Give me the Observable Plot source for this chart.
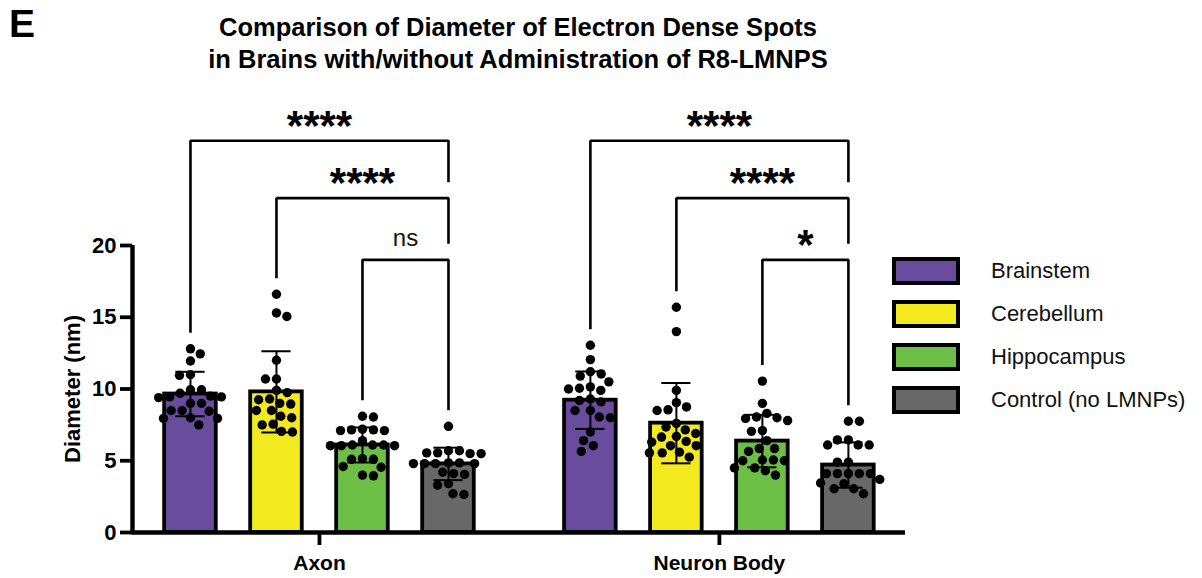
<!DOCTYPE html>
<html><head><meta charset="utf-8">
<script src="https://cdn.jsdelivr.net/npm/d3@7"></script>
<script src="https://cdn.jsdelivr.net/npm/@observablehq/plot@0.6"></script>
<style>
body{margin:0;background:#fff;font-family:"Liberation Sans",Arial,sans-serif;color:#000;}
#wrap{position:relative;width:1202px;height:578px;overflow:hidden;}
#chart{position:absolute;left:0;top:0;}
#panel{position:absolute;left:9px;top:2px;font-weight:bold;font-size:39px;line-height:44px;}
#title{position:absolute;left:0;width:1036px;top:11px;text-align:center;font-weight:bold;font-size:25.5px;line-height:32px;}
#legend{position:absolute;left:892px;top:257px;}
.item{display:flex;align-items:center;height:28px;margin-bottom:15px;}
.sw{width:60px;height:20px;border:4px solid #000;}
.lab{margin-left:31px;font-size:22px;color:#111;}
</style></head>
<body>
<div id="wrap">
  <div id="chart"></div>
  <div id="panel">E</div>
  <div id="title"></div>
  <div id="legend"></div>
</div>
<script>
// ---------- data ----------
const titleLines = ["Comparison of Diameter of Electron Dense Spots", "in Brains with/without Administration of R8-LMNPS"];
const groups = ["Axon", "Neuron Body"];
const regions = ["Brainstem", "Cerebellum", "Hippocampus", "Control (no LMNPs)"];
const regionColors = ["#6A4C9E", "#F2EA1E", "#6CBE45", "#676867"];
const yTicks = [0, 5, 10, 15, 20];
const yLabel = "Diameter (nm)";

const axonMeans = [9.65, 9.8, 6.1, 4.78];
const axonSD = [1.55, 2.83, 1.22, 1.13];
const neuronMeans = [9.22, 7.62, 6.37, 4.7];
const neuronSD = [2.0, 2.8, 1.83, 1.58];

const axonBrainstem = [12.8, 12.45, 11.95, 11.0, 10.95, 9.95, 9.95, 9.7, 9.5, 9.45, 9.45, 9.4, 9.0, 9.0, 8.5, 8.5, 8.45, 8.0, 7.95, 7.95, 7.5];
const axonCerebellum = [16.6, 15.3, 15.05, 12.0, 10.7, 10.7, 9.9, 9.75, 9.3, 9.25, 9.0, 8.95, 8.5, 8.5, 8.1, 8.0, 7.55, 7.5, 7.05, 7.0];
const axonHippocampus = [8.1, 8.05, 7.2, 7.15, 7.1, 7.1, 7.15, 6.4, 6.1, 6.05, 6.05, 6.1, 6.05, 6.1, 5.15, 5.1, 5.1, 4.6, 4.55, 4.0, 3.95];
const axonControl = [7.4, 5.7, 5.55, 5.5, 5.5, 5.55, 5.7, 4.85, 4.8, 4.8, 4.8, 4.8, 4.85, 4.2, 4.1, 4.05, 3.4, 3.3, 2.7, 2.65];
const neuronBrainstem = [13.05, 12.05, 11.2, 11.05, 10.9, 10.5, 10.15, 10.05, 10.0, 9.9, 9.3, 9.2, 9.1, 8.5, 8.5, 8.05, 8.0, 7.0, 6.4, 6.05, 5.65];
const neuronCerebellum = [15.7, 14.0, 9.9, 9.05, 8.75, 8.55, 8.5, 7.6, 7.35, 7.15, 6.9, 6.7, 6.65, 6.35, 6.3, 6.05, 6.05, 5.6, 5.55, 5.55, 5.25];
const neuronHippocampus = [10.55, 9.0, 8.3, 8.05, 8.0, 7.95, 7.8, 7.1, 7.05, 6.4, 5.85, 5.85, 5.65, 5.05, 5.05, 5.0, 5.0, 4.5, 4.5, 4.3, 4.0];
const neuronControl = [7.75, 7.75, 6.45, 6.45, 6.1, 6.1, 6.1, 4.9, 4.9, 4.1, 4.1, 4.1, 4.1, 4.1, 3.7, 3.45, 3.4, 3.05, 3.05, 2.7];

// comparisons: group index, region a, region b, bracket level, label
const comparisons = [
  [0, 0, 3, 2, "****"], [0, 1, 3, 1, "****"], [0, 2, 3, 0, "ns"],
  [1, 0, 3, 2, "****"], [1, 1, 3, 1, "****"], [1, 2, 3, 0, "*"]
];

// ---------- layout ----------
const W = 1202, H = 578;
const mL = 132, mR = 297, mT = 245, mB = 46;
const groupGap = 4.65;           // x-units between group starts
const xDomain = [-0.674, 8.314];
const yDomain = [0, 20];
const barHalf = 0.30, capHalf = 0.17;
const levelY = [19.0, 23.3, 27.3];
const pxPerX = (W - mL - mR) / (xDomain[1] - xDomain[0]);
const pxPerY = (H - mT - mB) / (yDomain[1] - yDomain[0]);
const legGap = 16 / pxPerY;
const dotR = 4.7;

const means = [axonMeans, neuronMeans];
const sds = [axonSD, neuronSD];
const points = [[axonBrainstem, axonCerebellum, axonHippocampus, axonControl],
                [neuronBrainstem, neuronCerebellum, neuronHippocampus, neuronControl]];
const xPos = (g, r) => g * groupGap + r;
const groupCenters = groups.map((_, g) => (xPos(g, 0) + xPos(g, regions.length - 1)) / 2);

const bars = [];
groups.forEach((gname, g) => regions.forEach((reg, r) => {
  bars.push({group: gname, region: reg, x: xPos(g, r), mean: means[g][r], sd: sds[g][r]});
}));
const caps = bars.flatMap(b => [{x: b.x, y: b.mean - b.sd}, {x: b.x, y: b.mean + b.sd}]);

// beeswarm placement computed in pixel space
function swarm(vals, cx) {
  const minD = 11;
  const placed = [];
  let toggle = 1;
  const sorted = vals.slice().sort((a, b) => b - a);
  for (const v of sorted) {
    const py = v * pxPerY;
    const near = placed.filter(p => Math.abs(p.py - py) < minD);
    const cands = [0];
    for (const p of near) {
      const w = Math.sqrt(minD * minD - (p.py - py) ** 2);
      cands.push(p.px - w, p.px + w);
    }
    const ok = c => near.every(p => (p.px - c) ** 2 + (p.py - py) ** 2 >= minD * minD - 1e-6);
    const valid = cands.filter(ok);
    const best = Math.min(...valid.map(Math.abs));
    const choice = valid.filter(c => Math.abs(Math.abs(c) - best) < 1e-6);
    const px = choice.length > 1 ? (toggle > 0 ? Math.max(...choice) : Math.min(...choice)) : choice[0];
    if (choice.length > 1) toggle = -toggle;
    placed.push({v, py, px});
  }
  return placed.map(p => ({value: p.v, x: cx + p.px / pxPerX}));
}
const dots = [];
points.forEach((gp, g) => gp.forEach((vals, r) => dots.push(...swarm(vals, xPos(g, r)))));

// brackets
const bracketLines = [], bracketLabels = [];
comparisons.forEach(([g, a, b, level, label], k) => {
  const floorAt = r => {
    let m = Math.max(...points[g][r]);
    comparisons.forEach(([g2, a2, b2, l2]) => {
      if (g2 === g && l2 < level && (a2 === r || b2 === r)) m = Math.max(m, levelY[l2]);
    });
    return m + legGap;
  };
  const y = levelY[level];
  bracketLines.push(
    {id: k, x: xPos(g, a), y: floorAt(a)},
    {id: k, x: xPos(g, a), y},
    {id: k, x: xPos(g, b), y},
    {id: k, x: xPos(g, b), y: floorAt(b)}
  );
  bracketLabels.push({x: (xPos(g, a) + xPos(g, b)) / 2, y, label});
});

const font = "Liberation Sans, Arial, sans-serif";
const chart = Plot.plot({
  width: W, height: H,
  marginLeft: mL, marginRight: mR, marginTop: mT, marginBottom: mB,
  style: {fontFamily: font, color: "#000", background: "transparent"},
  x: {type: "linear", domain: xDomain},
  y: {domain: yDomain},
  color: {domain: regions, range: regionColors},
  marks: [
    Plot.rectY(bars, {x1: d => d.x - barHalf, x2: d => d.x + barHalf, y: "mean", fill: "region", stroke: "#000", strokeWidth: 3.8}),
    Plot.dot(dots, {x: "x", y: "value", r: dotR, fill: "#000", stroke: "none"}),
    Plot.ruleX(bars, {x: "x", y1: d => d.mean - d.sd, y2: d => d.mean + d.sd, stroke: "#000", strokeWidth: 2}),
    Plot.ruleY(caps, {y: "y", x1: d => d.x - capHalf, x2: d => d.x + capHalf, stroke: "#000", strokeWidth: 2}),
    Plot.line(bracketLines, {x: "x", y: "y", z: "id", stroke: "#000", strokeWidth: 2.6, strokeLinejoin: "miter", strokeLinecap: "butt"}),
    Plot.text(bracketLabels.filter(d => d.label !== "ns"), {x: "x", y: "y", text: "label", lineAnchor: "bottom", dy: -1, fontSize: 42, fontWeight: "bold", fill: "#000"}),
    Plot.text(bracketLabels.filter(d => d.label === "ns"), {x: "x", y: "y", text: "label", lineAnchor: "bottom", dy: -14, fontSize: 24, fill: "#111"}),
    Plot.ruleY([0], {stroke: "#000", strokeWidth: 4.6}),
    Plot.ruleX([xDomain[0]], {y1: -0.16, y2: yDomain[1], stroke: "#000", strokeWidth: 4.4}),
    Plot.axisY({ticks: yTicks, tickSize: 12, tickPadding: 4, fontSize: 22, fontWeight: "bold", strokeWidth: 3.8, label: null}),
    Plot.axisX({ticks: groupCenters, tickFormat: d => groups[groupCenters.indexOf(d)], tickSize: 13, tickPadding: 10, fontSize: 21, fontWeight: "bold", strokeWidth: 3.8, label: null}),
    Plot.text([yLabel], {x: () => xDomain[0] - 60 / pxPerX, y: () => (yDomain[0] + yDomain[1]) / 2, rotate: -90, fontSize: 22, fontWeight: "bold", fill: "#000"})
  ]
});
document.getElementById("chart").appendChild(chart);

document.getElementById("title").innerHTML = titleLines.map(t => `<div>${t}</div>`).join("");
document.getElementById("legend").innerHTML = regions.map((r, i) =>
  `<div class="item"><div class="sw" style="background:${regionColors[i]}"></div><div class="lab">${r}</div></div>`).join("");
</script>
</body></html>
